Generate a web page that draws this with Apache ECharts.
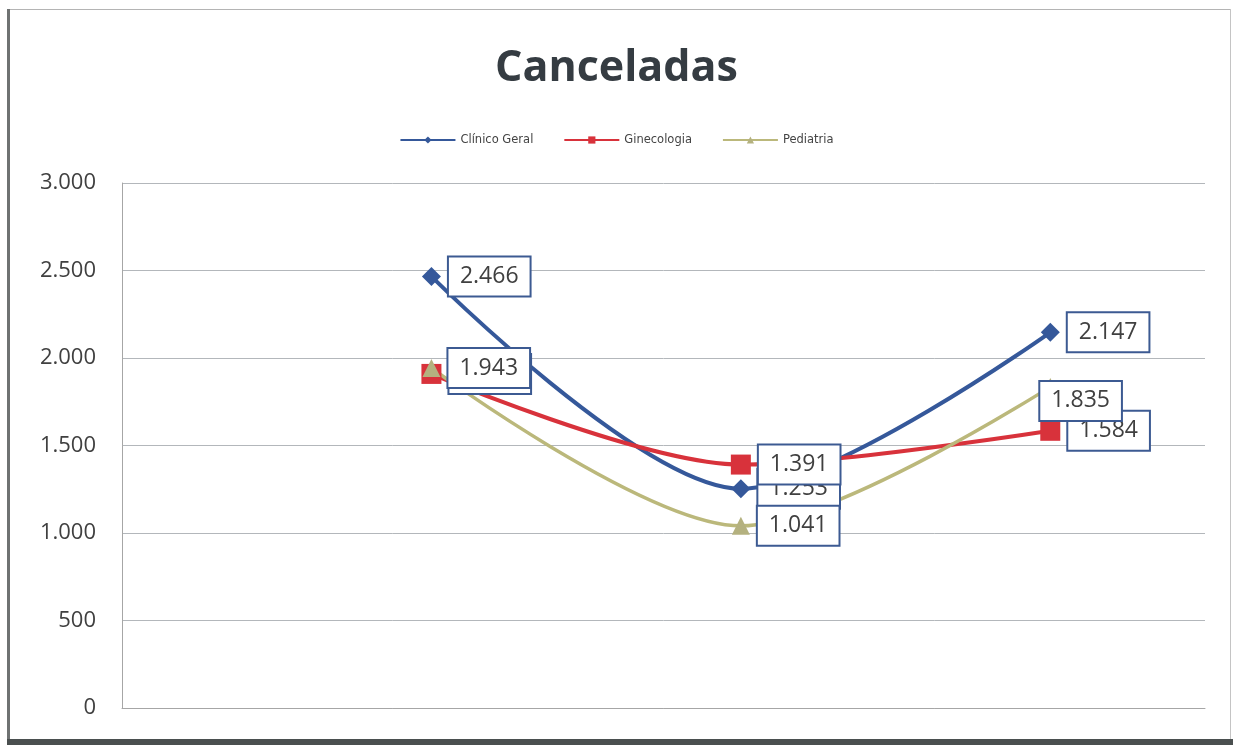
<!DOCTYPE html>
<html>
<head>
<meta charset="utf-8">
<script src="https://cdn.jsdelivr.net/npm/echarts@6/dist/echarts.min.js"></script>
<style>
  html, body { margin: 0; padding: 0; background: #ffffff; }
  #chart { width: 1233px; height: 745px; }
</style>
</head>
<body>
<div id="chart"></div>
<script>
// Periods along the (unlabelled) horizontal axis
const periodos = [1, 2, 3];
// Cancelled appointments per specialty
const clinicoGeral = [2466, 1253, 2147];
const ginecologia = [1909, 1391, 1584];
const pediatria = [1943, 1041, 1835];
// Value axis ticks
const yTicks = [0, 500, 1000, 1500, 2000, 2500, 3000];

const fmt = v => v.toLocaleString('pt-BR');

const labelStyle = {
  show: true,
  position: 'right',
  distance: 8,
  formatter: p => fmt(p.value[1]),
  fontFamily: 'Open Sans',
  fontSize: 23,
  lineHeight: 28,
  color: '#404040',
  backgroundColor: '#ffffff',
  borderColor: '#3c5a92',
  borderWidth: 2,
  padding: [5, 11, 5, 11]
};

function pairs(values, overrides) {
  return values.map((v, i) => {
    const item = { value: [periodos[i], v] };
    if (overrides && overrides[i]) item.label = overrides[i];
    return item;
  });
}

const chart = echarts.init(document.getElementById('chart'), null, { renderer: 'canvas' });

chart.setOption({
  backgroundColor: '#ffffff',
  animation: false,
  title: {
    text: 'Canceladas',
    left: 'center',
    top: 42,
    textStyle: {
      fontFamily: 'Open Sans',
      fontWeight: 'bold',
      fontSize: 43,
      color: '#353c42'
    }
  },
  legend: {
    top: 129,
    left: 'center',
    itemWidth: 55,
    itemHeight: 9,
    itemGap: 30,
    textStyle: { fontFamily: 'DejaVu Sans', fontSize: 11.5, color: '#444444' },
    data: ['Clínico Geral', 'Ginecologia', 'Pediatria']
  },
  grid: { left: 122, right: 28, top: 183, bottom: 37 },
  xAxis: {
    type: 'value',
    min: 0,
    max: 3.5,
    axisLine: { show: true, lineStyle: { color: '#a6a6a6', width: 1 } },
    axisTick: { show: false },
    axisLabel: { show: false },
    splitLine: { show: false }
  },
  yAxis: {
    type: 'value',
    min: yTicks[0],
    max: yTicks[yTicks.length - 1],
    interval: 500,
    axisLine: { show: true, lineStyle: { color: '#a6a6a6', width: 1 } },
    axisTick: { show: false },
    axisLabel: {
      formatter: v => fmt(v),
      fontFamily: 'Open Sans',
      fontSize: 22,
      color: '#404040',
      margin: 26
    },
    splitLine: { show: true, lineStyle: { color: '#b3b7bb', width: 1 } }
  },
  series: [
    {
      name: 'Clínico Geral',
      type: 'line',
      smooth: 0.3,
      symbol: 'diamond',
      symbolSize: 19,
      color: '#35589a',
      lineStyle: { width: 4, color: '#35589a' },
      itemStyle: { color: '#35589a' },
      label: labelStyle,
      data: pairs(clinicoGeral)
    },
    {
      name: 'Ginecologia',
      type: 'line',
      smooth: 0.3,
      symbol: 'rect',
      symbolSize: 20,
      color: '#d8323b',
      lineStyle: { width: 4, color: '#d8323b' },
      itemStyle: { color: '#d8323b' },
      label: labelStyle,
      data: pairs(ginecologia)
    },
    {
      name: 'Pediatria',
      type: 'line',
      smooth: 0.3,
      symbol: 'triangle',
      symbolSize: 18,
      color: '#bbb87b',
      lineStyle: { width: 3.5, color: '#bbb87b' },
      itemStyle: { color: '#b4b17f' },
      label: labelStyle,
      data: pairs(pediatria, {
        2: { position: [-1, 4], align: 'left', verticalAlign: 'top' }
      })
    }
  ],
  graphic: [
    // outer frame of the chart area
    { type: 'rect', shape: { x: 7, y: 9, width: 1224, height: 1 }, style: { fill: '#b4b4b4' } },
    { type: 'rect', shape: { x: 7, y: 9, width: 3, height: 732 }, style: { fill: '#6f7272' } },
    { type: 'rect', shape: { x: 1230, y: 9, width: 1, height: 732 }, style: { fill: '#c4c4c4' } },
    { type: 'rect', shape: { x: 7, y: 739, width: 1226, height: 6 }, style: { fill: '#4a4f4f' } }
  ]
});
</script>
</body>
</html>
